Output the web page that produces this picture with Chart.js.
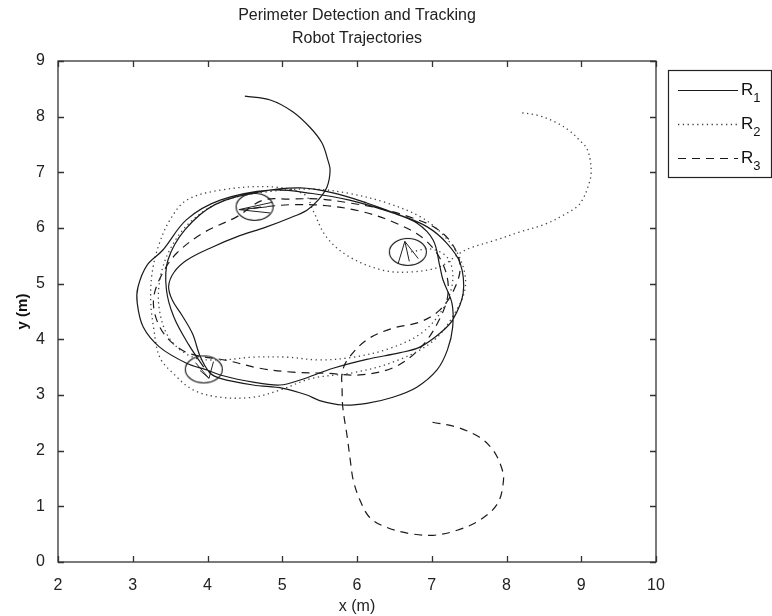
<!DOCTYPE html>
<html lang="en">
<head>
<meta charset="UTF-8">
<title>Perimeter Detection and Tracking</title>
<script src="https://cdn.jsdelivr.net/npm/chart.js"></script>
<style>
  html, body { margin: 0; padding: 0; background: #fff; }
  #wrap { width: 772px; height: 616px; }
</style>
</head>
<body>
<div id="wrap"><canvas id="myChart" width="772" height="616"></canvas></div>
<script>
// axis ticks
const xTicks = [2, 3, 4, 5, 6, 7, 8, 9, 10];
const yTicks = [0, 1, 2, 3, 4, 5, 6, 7, 8, 9];
const titleLines = ['Perimeter Detection and Tracking', 'Robot Trajectories'];

// robot 1 (solid)
const r1X = [4.50, 4.84, 5.14, 5.37, 5.53, 5.61, 5.64, 5.60, 5.48, 5.33, 5.10, 4.79, 4.39, 4.07, 3.72, 3.55, 3.48, 3.53, 3.65, 3.80, 3.90, 4.03,
  4.17, 4.61, 5.01, 5.33, 5.50, 5.81, 6.13, 6.48, 6.80, 7.07, 7.21, 7.28, 7.27, 7.15, 7.11, 7.02, 6.80, 6.48, 5.90, 5.40,
  4.84, 4.17, 3.72, 3.40, 3.19, 3.07, 3.06, 3.14, 3.36, 3.72, 3.99,
  4.17, 4.61, 4.97, 5.24, 5.68, 6.13, 6.58, 6.84, 7.11, 7.28, 7.42, 7.38, 7.20, 6.94, 6.58, 6.13, 5.68, 5.24,
  4.70, 4.10, 3.70, 3.47, 3.45, 3.55, 3.75, 3.95];
const r1Y = [8.37, 8.30, 8.09, 7.81, 7.53, 7.22, 7.04, 6.74, 6.50, 6.32, 6.18, 6.02, 5.84, 5.66, 5.42, 5.20, 4.95, 4.70, 4.45, 4.10, 3.70, 3.40,
  3.30, 3.18, 3.12, 3.00, 2.90, 2.82, 2.85, 2.96, 3.14, 3.45, 3.81, 4.22, 4.65, 5.07, 5.30, 5.78, 6.09, 6.27, 6.50, 6.62,
  6.68, 6.50, 6.15, 5.60, 5.33, 4.94, 4.65, 4.22, 3.86, 3.57, 3.45,
  3.36, 3.23, 3.18, 3.27, 3.48, 3.64, 3.76, 3.86, 4.11, 4.35, 4.83, 5.37, 5.73, 6.02, 6.23, 6.45, 6.63, 6.72,
  6.65, 6.42, 5.97, 5.42, 4.90, 4.40, 3.90, 3.50];

// robot 2 (dotted)
const r2X = [8.21, 8.43, 8.64, 8.83, 8.99, 9.07, 9.12, 9.13, 9.09, 9.03, 8.95, 8.76, 8.52, 8.18, 7.85, 7.51, 7.38,
  7.10, 6.71, 6.35, 5.90, 5.59, 5.41, 5.30,
  4.84, 4.17, 3.72, 3.50, 3.35, 3.26, 3.24, 3.28, 3.36, 3.54, 3.81, 4.17, 4.61, 4.97, 5.40, 5.95, 6.50, 7.00, 7.30, 7.45,
  7.38, 7.15, 6.85, 6.40, 5.90, 5.40, 4.80, 4.20, 3.78, 3.50, 3.36, 3.36, 3.50, 3.80, 4.17, 4.61, 5.06, 5.50, 5.95,
  6.40, 6.85, 7.15, 7.28, 7.22, 7.00, 6.72];
const r2Y = [8.07, 8.02, 7.91, 7.76, 7.56, 7.44, 7.22, 6.95, 6.74, 6.54, 6.39, 6.23, 6.07, 5.93, 5.78, 5.64, 5.55,
  5.30, 5.21, 5.24, 5.48, 5.84, 6.32, 6.60,
  6.74, 6.68, 6.50, 6.15, 5.70, 5.20, 4.70, 4.20, 3.68, 3.39, 3.09, 2.96, 2.96, 3.09, 3.30, 3.40, 3.60, 3.95, 4.45, 4.95,
  5.45, 5.88, 6.20, 6.45, 6.62, 6.70, 6.65, 6.48, 6.12, 5.62, 5.05, 4.50, 4.00, 3.68, 3.63, 3.68, 3.68, 3.63, 3.68,
  3.82, 4.10, 4.55, 5.05, 5.45, 5.62, 5.57];

// robot 3 (dashed)
const r3X = [7.01, 7.34, 7.64, 7.82, 7.93, 7.96, 7.88, 7.64, 7.34, 7.02, 6.71, 6.40, 6.17, 6.04, 5.95, 5.91, 5.87, 5.81,
  5.80, 5.80, 5.87, 6.13, 6.48, 6.84, 7.11, 7.30, 7.38, 7.28, 7.05, 6.70, 6.30, 5.90, 5.50, 5.10, 4.74,
  4.39, 3.94, 3.59, 3.40, 3.28, 3.32, 3.48, 3.75, 4.26, 4.70, 5.14, 5.60, 6.04, 6.50, 6.85, 7.10, 7.22, 7.15, 6.90,
  6.50, 6.05, 5.60, 5.15, 4.75, 4.60];
const r3Y = [2.51, 2.42, 2.24, 2.01, 1.71, 1.47, 1.05, 0.75, 0.57, 0.48, 0.51, 0.62, 0.80, 1.11, 1.47, 1.83, 2.24, 2.78,
  3.14, 3.39, 3.63, 3.99, 4.20, 4.31, 4.53, 4.90, 5.30, 5.70, 6.00, 6.20, 6.35, 6.45, 6.52, 6.52, 6.50,
  6.20, 5.91, 5.55, 5.19, 4.75, 4.35, 4.00, 3.75, 3.62, 3.48, 3.41, 3.39, 3.36, 3.50, 3.85, 4.35, 4.85, 5.35, 5.80,
  6.10, 6.30, 6.40, 6.42, 6.38, 6.35];

// final robot positions (sensor circles)
const endX = [4.63, 6.68, 3.95];
const endY = [6.38, 5.57, 3.46];

// heading strokes inside the circles (null = break)
const headX = [4.86, 4.42, 4.84, null, 4.80, 4.44, null, 6.55, 6.64, 6.82, null, 6.64, 6.70,
  null, 3.84, 4.02, 4.08, null, 3.90, 4.02];
const headY = [6.46, 6.33, 6.27, null, 6.38, 6.33, null, 5.36, 5.76, 5.45, null, 5.76, 5.40,
  null, 3.58, 3.30, 3.60, null, 3.44, 3.30];

const seriesNames = ['R1', 'R2', 'R3'];

const FONT = '"Liberation Sans", Arial, sans-serif';

function pts(xs, ys) {
  return xs.map((x, i) => ({ x: x, y: ys[i] }));
}

// ellipse marker for the sensor range circles
function ringMarker() {
  const c = document.createElement('canvas');
  c.width = 40; c.height = 30;
  const g = c.getContext('2d');
  g.strokeStyle = '#111';
  g.lineWidth = 1.1;
  g.beginPath();
  g.ellipse(20, 15, 18.5, 13.5, 0, 0, Math.PI * 2);
  g.stroke();
  return c;
}

// matlab-like box with inward ticks, title centred on the axes
const boxTicks = {
  id: 'boxTicks',
  afterDraw(chart) {
    const ctx = chart.ctx;
    const a = chart.chartArea;
    const xs = chart.scales.x, ys = chart.scales.y;
    ctx.save();
    ctx.strokeStyle = '#333';
    ctx.lineWidth = 1.3;
    ctx.strokeRect(a.left, a.top, a.right - a.left, a.bottom - a.top);
    ctx.beginPath();
    xTicks.forEach(v => {
      const p = Math.round(xs.getPixelForValue(v)) + 0.5;
      ctx.moveTo(p, a.bottom); ctx.lineTo(p, a.bottom - 6);
      ctx.moveTo(p, a.top); ctx.lineTo(p, a.top + 6);
    });
    yTicks.forEach(v => {
      const p = Math.round(ys.getPixelForValue(v)) + 0.5;
      ctx.moveTo(a.left, p); ctx.lineTo(a.left + 6, p);
      ctx.moveTo(a.right, p); ctx.lineTo(a.right - 6, p);
    });
    ctx.stroke();

    ctx.fillStyle = '#222';
    ctx.font = '16px ' + FONT;
    ctx.textAlign = 'center';
    ctx.textBaseline = 'middle';
    const cx = (a.left + a.right) / 2;
    titleLines.forEach((t, i) => ctx.fillText(t, cx, 16 + i * 23));
    ctx.restore();
  }
};

// legend with subscripts
const subLegend = {
  id: 'subLegend',
  afterDraw(chart) {
    const ctx = chart.ctx;
    const L = 668, T = 70, R = 771, B = 177;
    ctx.save();
    ctx.fillStyle = '#fff';
    ctx.fillRect(L, T, R - L, B - T);
    ctx.strokeStyle = '#222';
    ctx.lineWidth = 1.2;
    ctx.strokeRect(L + 0.5, T + 0.5, R - L, B - T);
    seriesNames.forEach((name, i) => {
      const ds = chart.data.datasets[i];
      const y = 90 + i * 34;
      ctx.beginPath();
      ctx.strokeStyle = ds.borderColor;
      ctx.lineWidth = ds.borderWidth;
      ctx.setLineDash(ds.borderDash || []);
      ctx.moveTo(678, y + 0.5);
      ctx.lineTo(738, y + 0.5);
      ctx.stroke();
      ctx.setLineDash([]);
      ctx.fillStyle = '#111';
      ctx.textBaseline = 'alphabetic';
      ctx.font = '17px ' + FONT;
      ctx.fillText(name.charAt(0), 741, y + 5);
      const w = ctx.measureText(name.charAt(0)).width;
      ctx.font = '13px ' + FONT;
      ctx.fillText(name.slice(1), 741 + w, y + 12);
    });
    ctx.restore();
  }
};

const lineBase = { showLine: true, pointRadius: 0, tension: 0.35, fill: false };

new Chart(document.getElementById('myChart').getContext('2d'), {
  type: 'scatter',
  data: {
    datasets: [
      Object.assign({ label: seriesNames[0], data: pts(r1X, r1Y), borderColor: '#1a1a1a', borderWidth: 1.2 }, lineBase),
      Object.assign({ label: seriesNames[1], data: pts(r2X, r2Y), borderColor: '#444', borderWidth: 1.3, borderDash: [1.3, 3.5] }, lineBase),
      Object.assign({ label: seriesNames[2], data: pts(r3X, r3Y), borderColor: '#1a1a1a', borderWidth: 1.2, borderDash: [8, 6] }, lineBase),
      { label: 'ends', data: pts(endX, endY), pointStyle: ringMarker(), pointRadius: 15, showLine: false },
      { label: 'heading', data: pts(headX, headY), showLine: true, spanGaps: false, pointRadius: 0, tension: 0,
        borderColor: '#222', borderWidth: 1 }
    ]
  },
  options: {
    responsive: false,
    animation: false,
    layout: { padding: { left: 14, right: 116, top: 61, bottom: 0 } },
    plugins: {
      legend: { display: false },
      tooltip: { enabled: false },
      title: { display: false }
    },
    scales: {
      x: {
        type: 'linear', min: 2, max: 10,
        afterBuildTicks: s => { s.ticks = xTicks.map(v => ({ value: v })); },
        afterFit: s => { s.height = 54; },
        grid: { display: false },
        border: { display: false },
        ticks: { color: '#222', padding: 6, font: { family: FONT, size: 16 } },
        title: { display: true, text: 'x (m)', color: '#222', padding: { top: 0, bottom: 0 },
          font: { family: FONT, size: 16 } }
      },
      y: {
        type: 'linear', min: 0, max: 9,
        afterBuildTicks: s => { s.ticks = yTicks.map(v => ({ value: v })); },
        afterFit: s => { s.width = 44; },
        grid: { display: false },
        border: { display: false },
        ticks: { color: '#222', padding: 5, font: { family: FONT, size: 16 } },
        title: { display: true, text: 'y (m)', color: '#111', padding: { top: 0, bottom: 6 },
          font: { family: FONT, size: 15, weight: 'bold' } }
      }
    }
  },
  plugins: [boxTicks, subLegend]
});
</script>
</body>
</html>
